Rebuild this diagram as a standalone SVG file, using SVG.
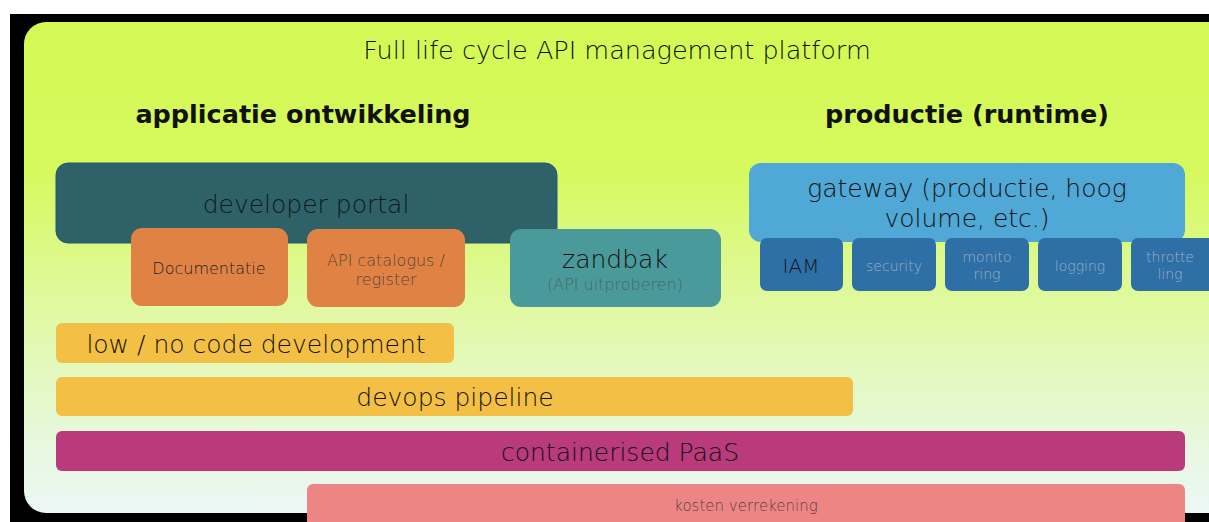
<svg xmlns="http://www.w3.org/2000/svg" width="1209" height="522" viewBox="0 0 1209 522">
  <style>
    text { font-family: "DejaVu Sans", Verdana, sans-serif; text-anchor: middle; }
    .head { font-weight: bold; font-size: 25.5px; fill: #111; }
    .big { font-size: 25px; fill: #111; font-weight: 200; }
    .mid { font-size: 25px; fill: #111; font-weight: 200; }
    .small { font-size: 16px; fill: #222; font-weight: 200; }
    .tiny { font-size: 14px; fill: #9fb0c2; font-weight: 200; }
  </style>
  <defs>
    <linearGradient id="bg" x1="0" y1="0" x2="0" y2="1">
      <stop offset="0" stop-color="#d4f955"/>
      <stop offset="0.3" stop-color="#d6f95d"/>
      <stop offset="0.6" stop-color="#e1f9a6"/>
      <stop offset="0.85" stop-color="#e6f8dc"/>
      <stop offset="1" stop-color="#ecf7f6"/>
    </linearGradient>
  </defs>

  <!-- page frame -->
  <rect x="0" y="0" width="1209" height="522" fill="#ffffff"/>
  <rect x="10" y="14" width="1199" height="508" fill="#000000"/>
  <rect id="platform" x="24" y="22" width="1210" height="491" rx="22" fill="url(#bg)"/>

  <g id="titles">
    <text x="617" y="59" class="big" style="font-size:25.5px">Full life cycle API management platform</text>
    <text x="303" y="123" class="head">applicatie ontwikkeling</text>
    <text x="967" y="123" class="head">productie (runtime)</text>
  </g>

  <g id="developer-portal">
    <rect x="56" y="163" width="501" height="80" rx="12" fill="#2e6268" stroke="#1c5a78" stroke-width="1"/>
    <text x="306" y="213" class="big" style="fill:#0d1a1a">developer portal</text>
  </g>
  <g id="documentatie">
    <rect x="131" y="228" width="157" height="78" rx="11" fill="#e08244"/>
    <text x="209" y="274" class="small">Documentatie</text>
  </g>
  <g id="api-catalogus">
    <rect x="307" y="229" width="158" height="78" rx="11" fill="#e08244"/>
    <text x="386" y="266" class="small" style="fill:#5a4636">API catalogus /</text>
    <text x="386" y="285" class="small" style="fill:#5a4636">register</text>
  </g>
  <g id="zandbak">
    <rect x="510" y="229" width="211" height="78" rx="11" fill="#4a9a9b"/>
    <text x="615" y="268" class="big">zandbak</text>
    <text x="615" y="290" class="small" style="fill:#4a6464">(API uitproberen)</text>
  </g>

  <g id="gateway">
    <rect x="749" y="163" width="436" height="79" rx="12" fill="#4fa8d5"/>
    <text x="967" y="197" class="big">gateway (productie, hoog</text>
    <text x="967" y="227" class="big">volume, etc.)</text>
  </g>
  <g id="iam">
    <rect x="760" y="238" width="83" height="53" rx="7" fill="#2e6fa6"/>
    <text x="801" y="273" class="small" style="font-size:20px;fill:#101820">IAM</text>
  </g>
  <g id="security">
    <rect x="852" y="238" width="84" height="53" rx="7" fill="#2e6fa6"/>
    <text x="894" y="271" class="tiny">security</text>
  </g>
  <g id="monitoring">
    <rect x="945" y="238" width="84" height="53" rx="7" fill="#2e6fa6"/>
    <text x="987" y="262" class="tiny">monito</text>
    <text x="987" y="279" class="tiny">ring</text>
  </g>
  <g id="logging">
    <rect x="1038" y="238" width="84" height="53" rx="7" fill="#2e6fa6"/>
    <text x="1080" y="271" class="tiny">logging</text>
  </g>
  <g id="throttling">
    <rect x="1131" y="238" width="90" height="53" rx="7" fill="#2e6fa6"/>
    <text x="1170" y="262" class="tiny">throtte</text>
    <text x="1170" y="279" class="tiny">ling</text>
  </g>

  <g id="low-code">
    <rect x="56" y="323" width="398" height="40" rx="6" fill="#f3bf45"/>
    <text x="256" y="353" class="mid">low / no code development</text>
  </g>
  <g id="devops">
    <rect x="56" y="377" width="797" height="39" rx="6" fill="#f3bf45"/>
    <text x="455" y="406" class="mid">devops pipeline</text>
  </g>
  <g id="paas">
    <rect x="56" y="431" width="1129" height="40" rx="6" fill="#b93b7b"/>
    <text x="620" y="461" class="mid">containerised PaaS</text>
  </g>
  <g id="kosten">
    <rect x="307" y="484" width="878" height="50" rx="6" fill="#ee8585"/>
    <text x="746" y="511" class="small" style="font-size:15px;fill:#5a4040">kosten verrekening</text>
  </g>

  <g id="connectors"/>
</svg>
